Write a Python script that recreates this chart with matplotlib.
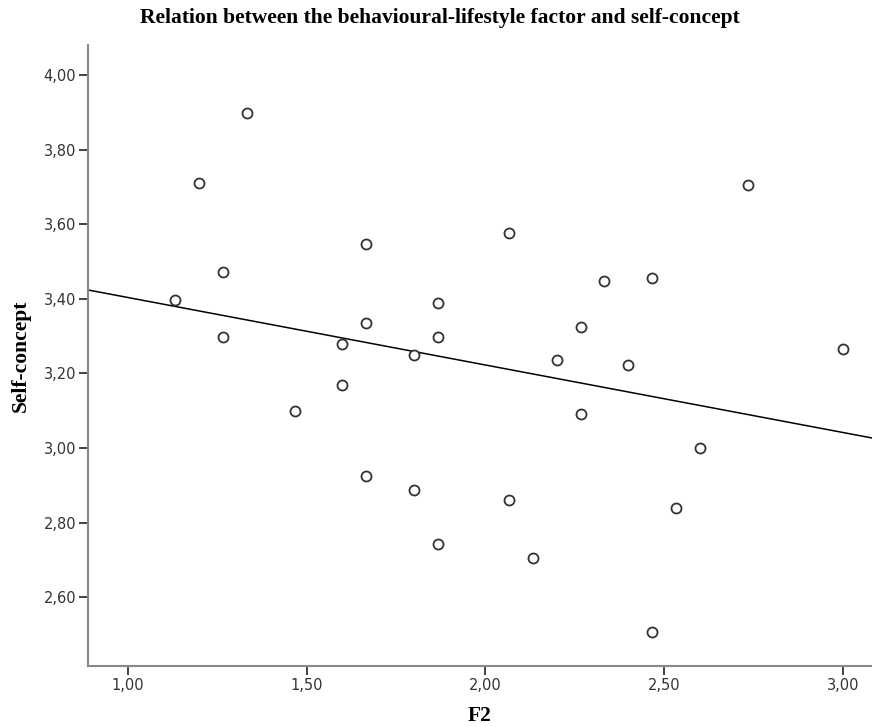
"""Scatter of F2 against self-concept with a linear fit line."""

import matplotlib
matplotlib.use('Agg')
import matplotlib.pyplot as plt
import numpy as np
from matplotlib.ticker import FuncFormatter

# F2 scores (x) and self-concept scores (y), one pair per respondent
f2 = [1.133, 1.200, 1.333, 1.267, 1.267, 1.467, 1.600, 1.600, 1.667, 1.667,
      1.667, 1.800, 1.800, 1.867, 1.867, 1.867, 2.067, 2.067, 2.133, 2.200,
      2.267, 2.267, 2.333, 2.400, 2.467, 2.467, 2.533, 2.600, 2.733, 3.000]
self_concept = [3.397, 3.711, 3.897, 3.473, 3.298, 3.099, 3.279, 3.168, 3.546, 3.334,
                2.925, 3.249, 2.887, 3.388, 3.298, 2.743, 3.576, 2.860, 2.705, 3.236,
                3.324, 3.091, 3.449, 3.224, 3.457, 2.508, 2.840, 3.001, 3.706, 3.265]

x_ticks = [1.00, 1.50, 2.00, 2.50, 3.00]
y_ticks = [2.60, 2.80, 3.00, 3.20, 3.40, 3.60, 3.80, 4.00]

title = 'Relation between the behavioural-lifestyle factor and self-concept'
x_label = 'F2'
y_label = 'Self-concept'

xlim = (0.889, 3.081)
ylim = (2.417, 4.08)

fig = plt.figure(figsize=(8.72, 7.27), dpi=100)
ax = fig.add_axes([0.1009, 0.0843, 0.8991, 0.8538])

ax.scatter(f2, self_concept, s=52, facecolors='white', edgecolors='#333333',
           linewidths=1.3, zorder=3)

# least squares fit line across the whole x range
slope, intercept = np.polyfit(f2, self_concept, 1)
xs = np.array(xlim)
ax.plot(xs, intercept + slope * xs, color='black', linewidth=1.1, zorder=2)

ax.set_xlim(*xlim)
ax.set_ylim(*ylim)
ax.set_xticks(x_ticks)
ax.set_yticks(y_ticks)
comma = FuncFormatter(lambda v, _: '{:.2f}'.format(v).replace('.', ','))
ax.xaxis.set_major_formatter(comma)
ax.yaxis.set_major_formatter(comma)

for side in ('top', 'right'):
    ax.spines[side].set_visible(False)
for side in ('left', 'bottom'):
    ax.spines[side].set_color('#888888')
    ax.spines[side].set_linewidth(1.5)

ax.tick_params(direction='out', length=6.5, width=1.3, color='#333333',
               labelcolor='#333333', labelsize=10.5, pad=2)

serif = {'family': 'Liberation Serif', 'weight': 'bold', 'size': 15.5}
fig.text(0.505, 0.975, title, ha='center', va='center', fontdict=serif)
ax.set_xlabel(x_label, fontdict=serif, labelpad=10)
ax.set_ylabel(y_label, fontdict=serif, labelpad=9)

fig.savefig('out.png', dpi=100)
